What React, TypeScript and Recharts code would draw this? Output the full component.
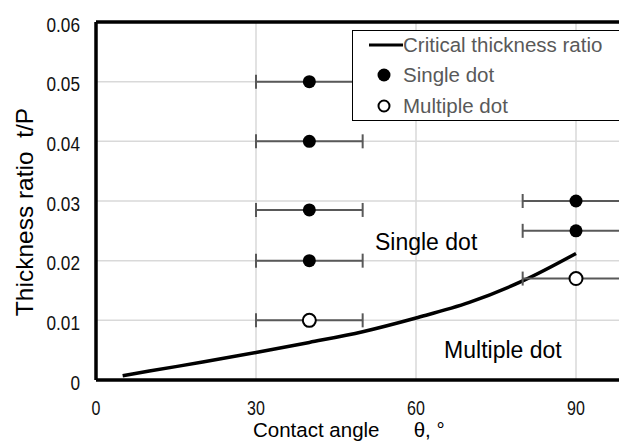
import React from "react"
import {
  ComposedChart,
  Line,
  Scatter,
  ErrorBar,
  XAxis,
  YAxis,
  CartesianGrid,
  ReferenceLine,
  ReferenceDot,
} from "recharts"

// critical thickness ratio curve
const curveAngle = [5, 10, 20, 30, 40, 50, 60, 70, 80, 90]
const curveRatio = [0.0007, 0.0015, 0.003, 0.0046, 0.0063, 0.0081, 0.0104, 0.013, 0.0166, 0.0212]

// measured points (x error = +-10 deg)
const singleAngle = [40, 40, 40, 40, 90, 90]
const singleRatio = [0.05, 0.04, 0.0285, 0.02, 0.03, 0.025]
const multipleAngle = [40, 90]
const multipleRatio = [0.01, 0.017]
const angleError = 10

const xTicks = [0, 30, 60, 90]
const yTicks = [0, 0.01, 0.02, 0.03, 0.04, 0.05, 0.06]

const curve = curveAngle.map((x, i) => ({ x, y: curveRatio[i] }))
const single = singleAngle.map((x, i) => ({ x, y: singleRatio[i], err: angleError }))
const multiple = multipleAngle.map((x, i) => ({ x, y: multipleRatio[i], err: angleError }))

const FONT = "'Liberation Sans', Arial, sans-serif"

const XTick = (props: any) => {
  const { x, y, payload } = props
  return (
    <text x={0} y={0} fontFamily={FONT} fontSize={20} fill="#111" textAnchor="middle"
      transform={`translate(${x},${y + 27}) scale(0.8,1)`}>
      {payload.value}
    </text>
  )
}

const YTick = (props: any) => {
  const { x, y, payload } = props
  return (
    <text x={0} y={0} fontFamily={FONT} fontSize={20.5} fill="#111" textAnchor="end"
      transform={`translate(${x - 8},${y + 9.5}) scale(0.84,1)`}>
      {payload.value}
    </text>
  )
}

const filledDot = (props: any) => {
  const { cx, cy } = props
  return <circle cx={cx} cy={cy} r={6.5} fill="#000" />
}

const openDot = (props: any) => {
  const { cx, cy } = props
  return <circle cx={cx} cy={cy} r={6.5} fill="#fff" stroke="#000" strokeWidth={2} />
}

const LegendBox = () => (
  <div style={{
    position: "absolute", left: 352, top: 30,
    border: "1px solid #000", background: "#fff", width: 300, height: 91,
    fontFamily: FONT, fontSize: 20.5, color: "#595959", boxSizing: "border-box",
  }}>
    <svg width={60} height={90} style={{ position: "absolute", left: 0, top: 0 }}>
      <line x1={16} x2={50} y1={14} y2={14} stroke="#000" strokeWidth={3} />
      <circle cx={31} cy={44} r={6.5} fill="#000" />
      <circle cx={31} cy={75} r={5.5} fill="#fff" stroke="#000" strokeWidth={2} />
    </svg>
    <div style={{ position: "absolute", left: 50, top: 0, lineHeight: "28px" }}>Critical thickness ratio</div>
    <div style={{ position: "absolute", left: 50, top: 30, lineHeight: "28px" }}>Single dot</div>
    <div style={{ position: "absolute", left: 50, top: 61, lineHeight: "28px" }}>Multiple dot</div>
  </div>
)

export default function App() {
  return (
    <div style={{ position: "absolute", left: 0, top: 0, width: 619, height: 444, overflow: "hidden", background: "#fff" }}>
      <ComposedChart width={746} height={444} margin={{ top: 22, right: 10, bottom: 34, left: 0 }}>
        <CartesianGrid stroke="#d9d9d9" strokeWidth={1.5} />
        <XAxis type="number" dataKey="x" domain={[0, 120]} ticks={xTicks} height={30}
          axisLine={{ stroke: "#000", strokeWidth: 3.5 }} tickLine={false} tick={<XTick />}
          label={{
            content: () => (
              <text x={253} y={437} textAnchor="start" fontFamily={FONT} fontSize={20.5} fill="#000"
                style={{ whiteSpace: "pre" }}>
                {"Contact angle      θ, °"}
              </text>
            ),
          }}
        />
        <YAxis type="number" domain={[0, 0.06]} ticks={yTicks} width={96}
          axisLine={{ stroke: "#000", strokeWidth: 3.5 }} tickLine={false} tick={<YTick />}
          label={{
            content: () => (
              <text x={0} y={0} textAnchor="middle" fontFamily={FONT} fontSize={24.5} fill="#000"
                transform="translate(33,212) rotate(-90)" style={{ whiteSpace: "pre" }}>
                {"Thickness ratio  t/P"}
              </text>
            ),
          }}
        />
        <ReferenceLine y={0.06} stroke="#000" strokeWidth={3.5} />
        <Line data={curve} dataKey="y" type="monotone" stroke="#000" strokeWidth={3.5}
          dot={false} isAnimationActive={false} name="Critical thickness ratio" />
        <Scatter data={single} dataKey="y" shape={filledDot} isAnimationActive={false} name="Single dot">
          <ErrorBar dataKey="err" direction="x" width={7} stroke="#595959" strokeWidth={2} isAnimationActive={false} />
        </Scatter>
        <Scatter data={multiple} dataKey="y" shape={openDot} isAnimationActive={false} name="Multiple dot">
          <ErrorBar dataKey="err" direction="x" width={7} stroke="#595959" strokeWidth={2} isAnimationActive={false} />
        </Scatter>
        <ReferenceDot x={61.9} y={0.0232} r={0} fill="none" stroke="none"
          label={{ value: "Single dot", position: "center", fontFamily: FONT, fontSize: 23, fill: "#000" }} />
        <ReferenceDot x={76.3} y={0.0051} r={0} fill="none" stroke="none"
          label={{ value: "Multiple dot", position: "center", fontFamily: FONT, fontSize: 23, fill: "#000" }} />
      </ComposedChart>
      <LegendBox />
    </div>
  )
}
